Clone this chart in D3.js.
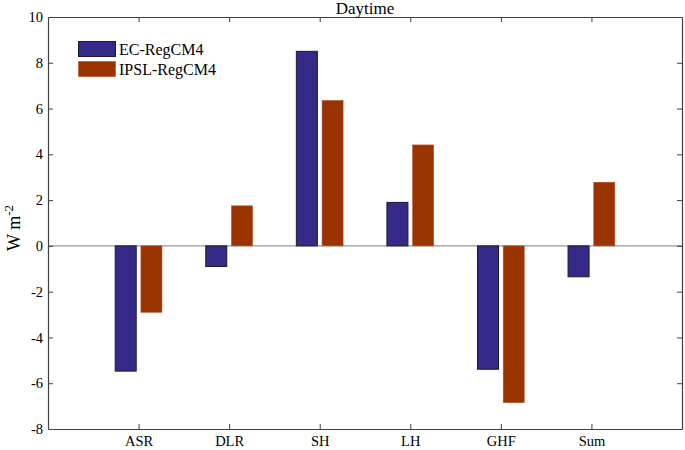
<!DOCTYPE html>
<html><head><meta charset="utf-8">
<script src="https://cdn.jsdelivr.net/npm/d3@7"></script>
<style>body{margin:0;background:#fff}svg{display:block}</style>
</head><body>
<svg id="c" width="685" height="450"></svg>
<script>
const categories = ["ASR","DLR","SH","LH","GHF","Sum"];
const seriesNames = ["EC-RegCM4","IPSL-RegCM4"];
const ecValues = [-5.47,-0.90,8.50,1.90,-5.39,-1.35];
const ipslValues = [-2.90,1.75,6.35,4.41,-6.85,2.78];
const yTicks = [-8,-6,-4,-2,0,2,4,6,8,10];
const colors = ["#352a87","#993300"];
const strokes = ["#1a1a2e","#b5502a"];
const FF = '"Liberation Serif"';

const svg = d3.select("#c");
const L=48, R=682, T=17, B=429;
const x = d3.scaleLinear().domain([0,7]).range([L,R]);
const y = d3.scaleLinear().domain([-8,10]).range([B,T]);
const bw = 0.232, off = 0.142;

svg.append("line").attr("x1",L).attr("x2",R).attr("y1",y(0)).attr("y2",y(0))
  .attr("stroke","#999").attr("stroke-width",1.2);

const series=[ecValues, ipslValues];
series.forEach((vals,si)=>{
  svg.append("g").selectAll("rect").data(vals).join("rect")
    .attr("x",(d,i)=>x(i+1+(si===0?-off:off)-bw/2))
    .attr("width",x(bw)-x(0))
    .attr("y",d=>y(Math.max(0,d)))
    .attr("height",d=>Math.abs(y(d)-y(0)))
    .attr("fill",colors[si])
    .attr("stroke",strokes[si]).attr("stroke-width",si===0?1:0.6);
});

const axColor="#404040";
const xa = d3.axisBottom(x).tickValues(d3.range(1,7)).tickFormat(d=>categories[d-1]).tickSizeInner(-5).tickSizeOuter(0).tickPadding(7);
const gb = svg.append("g").attr("transform",`translate(0,${B})`).call(xa);
const gt = svg.append("g").attr("transform",`translate(0,${T})`).call(d3.axisTop(x).tickValues(d3.range(1,7)).tickFormat("").tickSizeInner(-5).tickSizeOuter(0));
const ya = d3.axisLeft(y).tickValues(yTicks).tickFormat(d=>d).tickSizeInner(-5).tickSizeOuter(0).tickPadding(5);
const gl = svg.append("g").attr("transform",`translate(${L},0)`).call(ya);
const gr = svg.append("g").attr("transform",`translate(${R},0)`).call(d3.axisRight(y).tickValues(yTicks).tickFormat("").tickSizeInner(-5).tickSizeOuter(0));
[gb,gt,gl,gr].forEach(g=>{
  g.attr("font-family",FF).attr("font-size",14);
  g.select(".domain").attr("stroke",axColor).attr("stroke-width",1.2);
  g.selectAll(".tick line").attr("stroke",axColor).attr("stroke-width",1);
  g.selectAll("text").attr("fill","#000").style("font-family",FF).style("font-size","14.5px");
});
gl.selectAll(".tick line").filter(d=>d===-8||d===10).remove();
gr.selectAll(".tick line").filter(d=>d===-8||d===10).remove();

svg.append("text").attr("x",(L+R)/2).attr("y",14).attr("text-anchor","middle")
  .style("font-family",FF).style("font-size","17px").text("Daytime");

const yl = svg.append("text").attr("transform",`translate(20,228) rotate(-90)`).attr("text-anchor","middle")
  .style("font-family",FF).style("font-size","18px");
yl.append("tspan").text("W m");
yl.append("tspan").attr("dy",-7).style("font-size","13px").text("-2");

const lg = svg.append("g");
seriesNames.forEach((n,i)=>{
  lg.append("rect").attr("x",78.5).attr("y",41.5+i*20).attr("width",37).attr("height",15)
    .attr("fill",colors[i]).attr("stroke",strokes[i]).attr("stroke-width",i===0?1:0.6);
  lg.append("text").attr("x",119).attr("y",54.5+i*20)
    .style("font-family",FF).style("font-size","16px").text(n);
});
</script>
</body></html>
